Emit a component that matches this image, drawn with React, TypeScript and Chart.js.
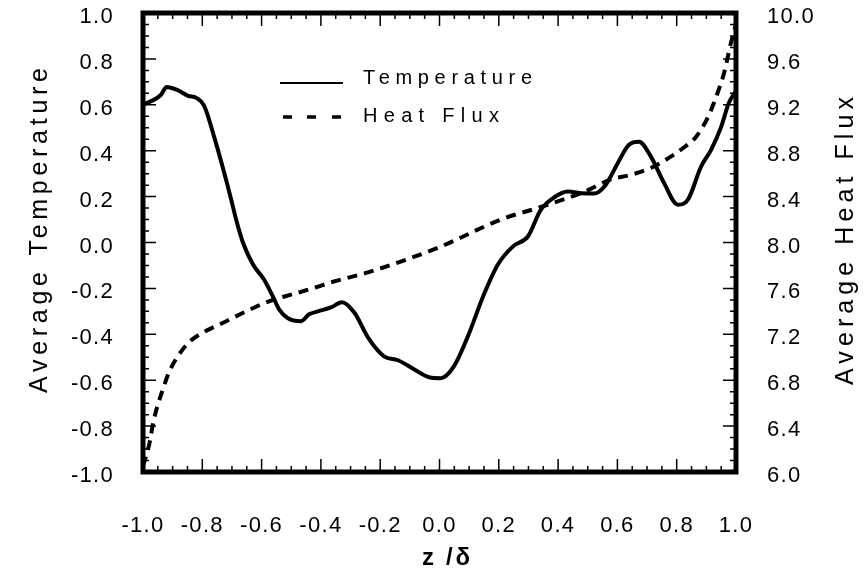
import React, { useEffect, useRef } from "react";
import { Chart, registerables } from "chart.js";

Chart.register(...registerables);

// ---- data ----
const tempX = [-1.0, -0.94, -0.92, -0.885, -0.848, -0.82, -0.794, -0.76, -0.703, -0.686, -0.663, -0.629, -0.592, -0.562, -0.541, -0.511, -0.467, -0.44, -0.41, -0.366, -0.329, -0.288, -0.238, -0.187, -0.14, -0.086, -0.035, 0.005, 0.049, 0.096, 0.147, 0.197, 0.248, 0.298, 0.342, 0.386, 0.433, 0.48, 0.521, 0.561, 0.602, 0.639, 0.673, 0.713, 0.757, 0.804, 0.838, 0.882, 0.916, 0.95, 0.976, 1.0];
const tempY = [0.6, 0.643, 0.678, 0.665, 0.639, 0.63, 0.596, 0.46, 0.19, 0.1, 0.0, -0.096, -0.161, -0.235, -0.291, -0.33, -0.343, -0.313, -0.3, -0.283, -0.26, -0.304, -0.42, -0.496, -0.513, -0.552, -0.587, -0.591, -0.539, -0.408, -0.235, -0.096, -0.017, 0.026, 0.143, 0.196, 0.222, 0.215, 0.213, 0.252, 0.348, 0.426, 0.439, 0.374, 0.26, 0.165, 0.187, 0.33, 0.404, 0.504, 0.609, 0.66];

const fluxX = [-1.0, -0.98, -0.963, -0.933, -0.912, -0.882, -0.845, -0.787, -0.73, -0.676, -0.619, -0.562, -0.494, -0.417, -0.356, -0.241, 0.0, 0.207, 0.342, 0.487, 0.578, 0.646, 0.713, 0.781, 0.825, 0.865, 0.905, 0.926, 0.96, 0.983, 1.0];
const fluxY = [6.05, 6.23, 6.46, 6.72, 6.87, 7.01, 7.13, 7.23, 7.3, 7.37, 7.44, 7.5, 7.55, 7.61, 7.66, 7.74, 7.96, 8.2, 8.31, 8.44, 8.55, 8.59, 8.65, 8.75, 8.83, 8.92, 9.09, 9.22, 9.48, 9.74, 9.9];

const seriesNames = ["Temperature", "Heat Flux"];
const xTitle = "z /δ";
const yTitle = "Average Temperature";
const y2Title = "Average Heat Flux";

const FONT = "'Liberation Sans', Arial, Helvetica, sans-serif";

function spaced(ctx: CanvasRenderingContext2D, text: string, x: number, y: number, target: number) {
  (ctx as any).letterSpacing = "0px";
  const w = ctx.measureText(text).width;
  const sp = text.length > 1 ? (target - w) / (text.length - 1) : 0;
  (ctx as any).letterSpacing = sp + "px";
  ctx.textAlign = "left";
  ctx.fillText(text, x, y);
  (ctx as any).letterSpacing = "0px";
}

const framePlugin = {
  id: "frame",
  beforeDraw(chart: any) {
    (chart.ctx as any).letterSpacing = "1.3px";
  },
  beforeDatasetsDraw(chart: any) {
    (chart.ctx as any).letterSpacing = "0px";
  },
  afterDraw(chart: any) {
    const ctx: CanvasRenderingContext2D = chart.ctx;
    const { left, right, top, bottom } = chart.chartArea;
    const xs = chart.scales.x;
    const ys = chart.scales.y;
    const y2s = chart.scales.y2;
    ctx.save();
    ctx.strokeStyle = "#000";
    ctx.fillStyle = "#000";
    // ticks
    ctx.lineWidth = 1.5;
    ctx.beginPath();
    for (let i = 0; i <= 40; i++) {
      const v = -1 + i * 0.05;
      const len = i % 4 === 0 ? 13 : 6;
      const px = xs.getPixelForValue(v);
      ctx.moveTo(px, bottom); ctx.lineTo(px, bottom - len);
      ctx.moveTo(px, top); ctx.lineTo(px, top + len);
      const py = ys.getPixelForValue(v);
      ctx.moveTo(left, py); ctx.lineTo(left + len, py);
    }
    for (let i = 0; i <= 40; i++) {
      const v = 6 + i * 0.1;
      const len = i % 4 === 0 ? 13 : 6;
      const py = y2s.getPixelForValue(v);
      ctx.moveTo(right, py); ctx.lineTo(right - len, py);
    }
    ctx.stroke();
    // frame
    ctx.lineWidth = 5;
    ctx.strokeRect(left, top, right - left, bottom - top);

    // legend
    ctx.lineWidth = 2;
    ctx.beginPath();
    ctx.moveTo(280, 83); ctx.lineTo(343, 83);
    ctx.stroke();
    ctx.lineWidth = 3.5;
    ctx.beginPath();
    [[283, 292], [307, 316], [332, 341]].forEach(([a, b]) => { ctx.moveTo(a, 117); ctx.lineTo(b, 117); });
    ctx.stroke();
    ctx.font = `20px ${FONT}`;
    ctx.textBaseline = "alphabetic";
    spaced(ctx, seriesNames[0], 363, 84, 169);
    spaced(ctx, seriesNames[1], 363, 122, 136);

    // axis titles
    ctx.font = `25px ${FONT}`;
    ctx.save();
    ctx.translate(47, 393);
    ctx.rotate(-Math.PI / 2);
    spaced(ctx, yTitle, 0, 0, 325);
    ctx.restore();
    ctx.save();
    ctx.translate(853, 385);
    ctx.rotate(-Math.PI / 2);
    spaced(ctx, y2Title, 0, 0, 288);
    ctx.restore();
    ctx.font = `bold 24px ${FONT}`;
    spaced(ctx, xTitle, 422, 565, 48);
    ctx.restore();
  },
};

const fmt = (v: any) => {
  const n = Number(v);
  return Math.abs(n) < 1e-9 ? "0.0" : n.toFixed(1);
};

const zeroPad = (s: any) => {
  s.paddingTop = 0;
  s.paddingBottom = 0;
  s.paddingLeft = 0;
  s.paddingRight = 0;
};

export default function App() {
  const ref = useRef<HTMLCanvasElement>(null);
  useEffect(() => {
    if (!ref.current) return;
    const tickFont = { family: FONT, size: 22 };
    const chart = new Chart(ref.current, {
      type: "line",
      data: {
        datasets: [
          {
            label: seriesNames[0],
            data: tempX.map((x, i) => ({ x, y: tempY[i] })),
            yAxisID: "y",
            borderColor: "#000",
            borderWidth: 4,
            pointRadius: 0,
            cubicInterpolationMode: "monotone",
            fill: false,
          },
          {
            label: seriesNames[1],
            data: fluxX.map((x, i) => ({ x, y: fluxY[i] })),
            yAxisID: "y2",
            borderColor: "#000",
            borderWidth: 4,
            borderDash: [10, 7],
            borderCapStyle: "butt",
            pointRadius: 0,
            cubicInterpolationMode: "monotone",
            fill: false,
          },
        ],
      },
      options: {
        animation: false,
        responsive: false,
        devicePixelRatio: 1,
        layout: { padding: { top: 13, left: 0, right: 0, bottom: 0 } },
        plugins: { legend: { display: false }, tooltip: { enabled: false } },
        scales: {
          x: {
            type: "linear",
            min: -1,
            max: 1,
            grid: { display: false, drawTicks: false },
            border: { display: false },
            ticks: { stepSize: 0.2, callback: fmt, font: tickFont, color: "#000", padding: 41, maxRotation: 0, autoSkip: false },
            afterFit: (s: any) => { s.height = 101; zeroPad(s); },
          },
          y: {
            type: "linear",
            position: "left",
            min: -1,
            max: 1,
            grid: { display: false, drawTicks: false },
            border: { display: false },
            ticks: { stepSize: 0.2, callback: fmt, font: tickFont, color: "#000", padding: 29, labelOffset: 4, autoSkip: false },
            afterFit: (s: any) => { s.width = 143; zeroPad(s); },
          },
          y2: {
            type: "linear",
            position: "right",
            min: 6,
            max: 10,
            grid: { display: false, drawTicks: false },
            border: { display: false },
            ticks: { stepSize: 0.4, callback: fmt, font: tickFont, color: "#000", padding: 31, labelOffset: 4, autoSkip: false },
            afterFit: (s: any) => { s.width = 129; zeroPad(s); },
          },
        },
      } as any,
      plugins: [framePlugin],
    });
    return () => chart.destroy();
  }, []);
  return (
    <div style={{ position: "fixed", left: 0, top: 0, width: 865, height: 573, background: "#fff" }}>
      <canvas ref={ref} width={865} height={573} style={{ display: "block" }} />
    </div>
  );
}
